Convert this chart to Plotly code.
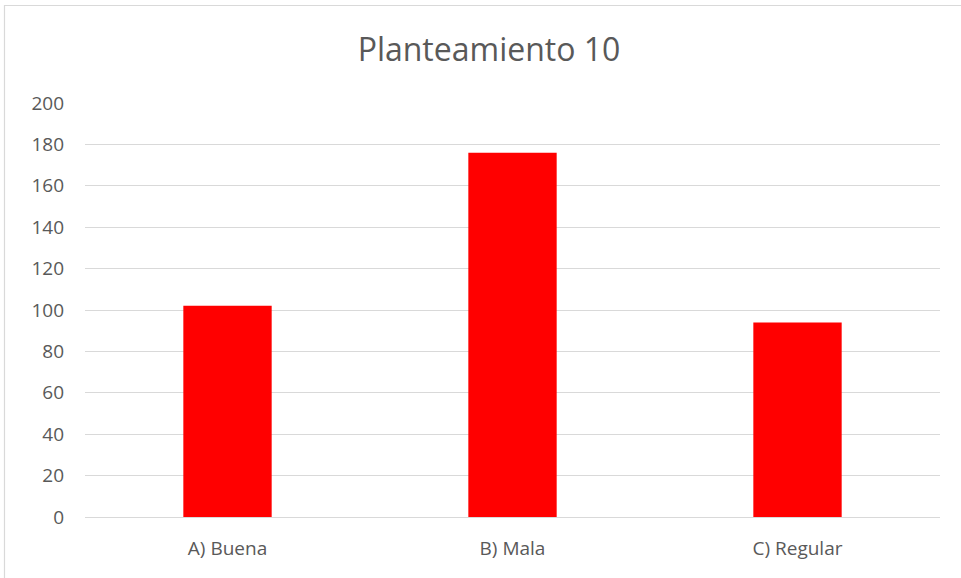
import plotly.graph_objects as go

categories = ["A) Buena", "B) Mala", "C) Regular"]
values = [102, 176, 94]
y_ticks = [0, 20, 40, 60, 80, 100, 120, 140, 160, 180, 200]

fig = go.Figure()
fig.add_trace(go.Bar(x=categories, y=values, marker=dict(color="#ff0000", line=dict(width=0)), width=0.31))

L, R, T, B = 85, 21, 103, 61
W, H = 961, 578
pw, ph = W - L - R, H - T - B

def px(x):
    return (x - L) / pw

def py(y):
    return (H - B - y) / ph

fig.add_shape(type="rect", xref="paper", yref="paper",
              x0=px(4.5), x1=px(975), y0=py(5.5), y1=py(595),
              line=dict(color="#d9d9d9", width=1.2), fillcolor="rgba(0,0,0,0)", layer="below")

fig.update_layout(
    width=W, height=H,
    margin=dict(l=L, r=R, t=T, b=B),
    paper_bgcolor="white", plot_bgcolor="white",
    title=dict(text="Planteamiento 10", x=489 / W, xanchor="center", y=1 - 50 / H, yanchor="middle",
               font=dict(family="Open Sans", size=32, color="#595959")),
    font=dict(family="Open Sans", size=19, color="#595959"),
    showlegend=False,
)
fig.update_yaxes(range=[0, 200], tickvals=y_ticks, showgrid=True, gridcolor="#d9d9d9", gridwidth=1.2,
                 zeroline=True, zerolinecolor="#d9d9d9", zerolinewidth=1.2, showline=False, ticks="",
                 ticklabelstandoff=20, tickfont=dict(size=19, color="#595959"))
fig.update_xaxes(showgrid=False, showline=True, linecolor="#d9d9d9", linewidth=1.2, ticks="",
                 tickfont=dict(size=19, color="#595959"), ticklabelstandoff=14)

fig.write_html("out.html", config={"displayModeBar": False},
               post_script="document.body.style.margin='0';")
